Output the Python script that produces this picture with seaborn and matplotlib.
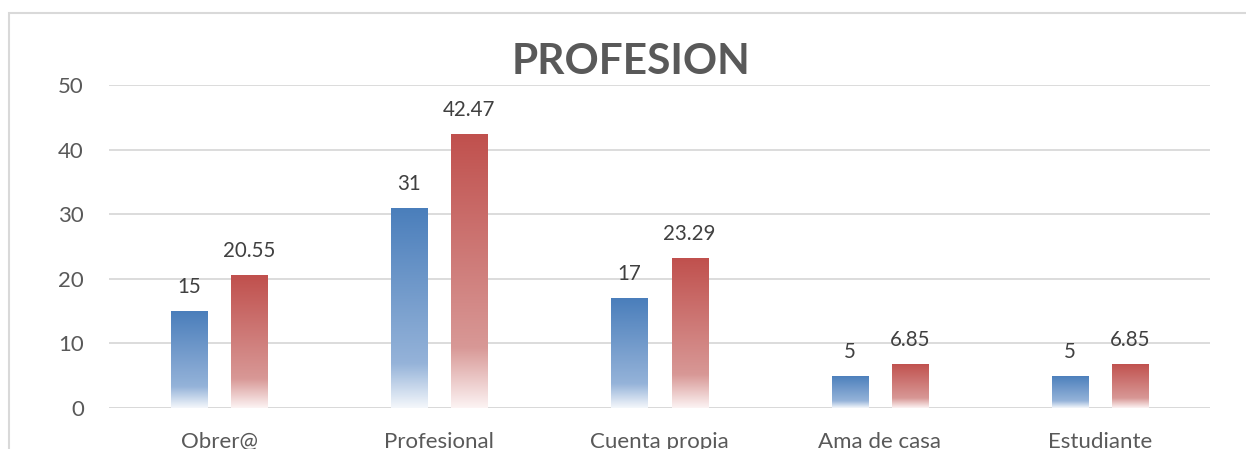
import numpy as np
import pandas as pd
import matplotlib
matplotlib.use("Agg")
import matplotlib.pyplot as plt
from matplotlib.colors import LinearSegmentedColormap
from matplotlib.patches import Rectangle
import seaborn as sns

categorias = ["Obrer@", "Profesional", "Cuenta propia", "Ama de casa", "Estudiante"]
frecuencia = [15, 31, 17, 5, 5]
porcentaje = [20.55, 42.47, 23.29, 6.85, 6.85]
etiquetas_frec = ["15", "31", "17", "5", "5"]
etiquetas_pct = ["20.55", "42.47", "23.29", "6.85", "6.85"]
y_ticks = [0, 10, 20, 30, 40, 50]

df = pd.DataFrame({
    "categoria": categorias * 2,
    "serie": ["Frecuencia"] * len(categorias) + ["Porcentaje"] * len(categorias),
    "valor": frecuencia + porcentaje,
})

sns.set_theme(style="white")
plt.rcParams["font.family"] = ["Lato", "DejaVu Sans"]

fig = plt.figure(figsize=(12.46, 4.49), dpi=100)
ax = fig.add_axes([109 / 1246, 41 / 449, (1210 - 109) / 1246, (408 - 85) / 449])

palette = {"Frecuencia": "#4a7ebb", "Porcentaje": "#c0504d"}
sns.barplot(data=df, x="categoria", y="valor", hue="serie", order=categorias,
            hue_order=["Frecuencia", "Porcentaje"], palette=palette,
            width=0.545, gap=0.4, ax=ax, legend=False, zorder=3)

# vertical gradient fill for every bar: solid on top, fading to white at the base
grad = {
    "Frecuencia": LinearSegmentedColormap.from_list(
        "azul", [(0.0, "#f4f7fb"), (0.22, "#95b3d9"), (1.0, "#4a7ebb")]),
    "Porcentaje": LinearSegmentedColormap.from_list(
        "rojo", [(0.0, "#fcf3f3"), (0.22, "#d89896"), (1.0, "#c0504d")]),
}
ramp = np.linspace(0, 1, 256).reshape(-1, 1)
for container, serie, labels in zip(ax.containers, ["Frecuencia", "Porcentaje"],
                                   [etiquetas_frec, etiquetas_pct]):
    for patch, lab in zip(container.patches, labels):
        x0, w, h = patch.get_x(), patch.get_width(), patch.get_height()
        patch.set_facecolor("none")
        patch.set_edgecolor("none")
        im = ax.imshow(ramp, cmap=grad[serie], aspect="auto", origin="lower",
                       extent=(x0, x0 + w, 0, h), zorder=3, interpolation="bilinear")
        im.set_clip_path(patch)
        ax.annotate(lab, (x0 + w / 2, h), xytext=(0, 10), textcoords="offset points",
                    ha="center", va="bottom", fontsize=14.8, color="#404040")

ax.set_xlim(-0.5, len(categorias) - 0.5)
ax.set_ylim(0, 50)
ax.set_yticks(y_ticks)
ax.set_yticklabels([str(t) for t in y_ticks])
ax.grid(axis="y", color="#d9d9d9", linewidth=1.3, zorder=0)
ax.axhline(0, color="#d9d9d9", linewidth=2, zorder=2)
for s in ax.spines.values():
    s.set_visible(False)
ax.tick_params(axis="y", length=0, pad=18, labelsize=16, labelcolor="#595959")
ax.tick_params(axis="x", length=0, pad=17, labelsize=16, labelcolor="#595959")
ax.set_xlabel("")
ax.set_ylabel("")

fig.text(631 / 1246, 1 - 62 / 449, "PROFESION", ha="center", va="center",
         fontsize=30.5, fontweight="bold", color="#595959")

# chart-area frame
fig.patches.append(Rectangle((8.5 / 1246, -0.2), 1.5, 1 - 12.5 / 449 + 0.2,
                             transform=fig.transFigure, fill=False,
                             edgecolor="#d9d9d9", linewidth=1.5))

fig.savefig("out.png", dpi=100)
